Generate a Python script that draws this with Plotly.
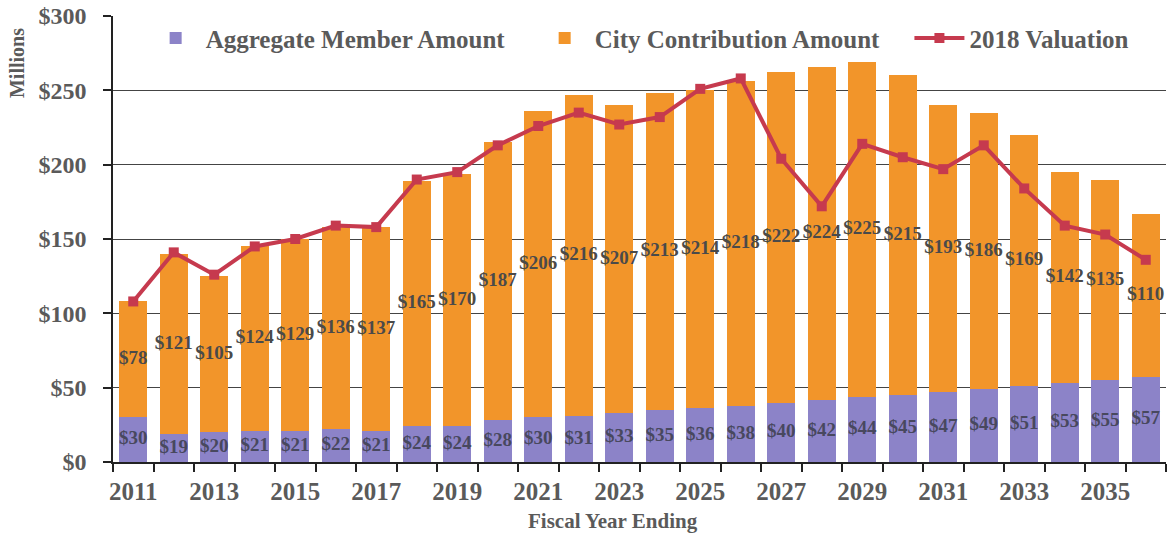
import plotly.graph_objects as go

years = list(range(2011, 2037))
member = [30, 19, 20, 21, 21, 22, 21, 24, 24, 28, 30, 31, 33, 35, 36, 38, 40, 42, 44, 45, 47, 49, 51, 53, 55, 57]
city = [78, 121, 105, 124, 129, 136, 137, 165, 170, 187, 206, 216, 207, 213, 214, 218, 222, 224, 225, 215, 193, 186, 169, 142, 135, 110]
valuation = [108, 141, 126, 145, 150, 159, 158, 190, 195, 213, 226, 235, 227, 232, 251, 258, 204, 172, 214, 205, 197, 213, 184, 159, 153, 136]

label_years = years[::2]
y_ticks = [0, 50, 100, 150, 200, 250, 300]

FONT = "Liberation Serif"
GRAY = "#5a5a5a"
PURPLE = "#8c83c8"
ORANGE = "#f2952a"
RED = "#c63a4e"
PAD = "\u00a0" * 4  # extra spacing between legend entries

fig = go.Figure()
fig.add_trace(go.Bar(x=years, y=member, name="Aggregate Member Amount" + PAD,
                     marker=dict(color=PURPLE, line=dict(width=0))))
fig.add_trace(go.Bar(x=years, y=city, name="City Contribution Amount" + PAD,
                     marker=dict(color=ORANGE, line=dict(width=0))))
fig.add_trace(go.Scatter(x=years, y=valuation, name="2018 Valuation", mode="lines+markers",
                         line=dict(color=RED, width=4),
                         marker=dict(symbol="square", size=10, color=RED)))

# data labels centred in each segment
fig.add_trace(go.Scatter(x=years, y=[m / 2 for m in member], mode="text",
                         text=[f"${v}" for v in member], showlegend=False, hoverinfo="skip",
                         cliponaxis=False,
                         textfont=dict(family=FONT, size=19, color="#48485e", weight="bold")))
fig.add_trace(go.Scatter(x=years, y=[m + c / 2 for m, c in zip(member, city)], mode="text",
                         text=[f"${v}" for v in city], showlegend=False, hoverinfo="skip",
                         cliponaxis=False,
                         textfont=dict(family=FONT, size=19, color="#4a4a4a", weight="bold")))

fig.update_layout(
    width=1169, height=540,
    barmode="stack", bargap=0.31,
    plot_bgcolor="white", paper_bgcolor="white",
    margin=dict(l=113, r=3, t=13, b=78),
    font=dict(family=FONT, color=GRAY),
    legend=dict(orientation="h", x=0.031, y=0.95, xanchor="left", yanchor="middle",
                bgcolor="rgba(0,0,0,0)", itemwidth=50,
                font=dict(family=FONT, size=25, color=GRAY, weight="bold"),
                traceorder="normal"),
    showlegend=True,
    annotations=[
        dict(text="Millions", xref="paper", yref="paper", x=-0.091, y=0.895,
             xanchor="center", yanchor="middle", textangle=-90, showarrow=False,
             font=dict(family=FONT, size=20, color=GRAY, weight="bold")),
        dict(text="Fiscal Year Ending", xref="paper", yref="paper", x=0.475, y=-0.133,
             xanchor="center", yanchor="middle", showarrow=False,
             font=dict(family=FONT, size=21, color=GRAY, weight="bold")),
    ],
)
fig.update_xaxes(
    type="linear", range=[2010.5, 2036.5],
    tickvals=label_years, ticktext=[str(y) for y in label_years], ticks="",
    tickfont=dict(family=FONT, size=25, color=GRAY, weight="bold"),
    ticklabelstandoff=6,
    showline=True, linecolor="#222222", linewidth=1.5, showgrid=False, zeroline=False,
    minor=dict(tickvals=[y - 0.5 for y in years] + [years[-1] + 0.5], ticks="outside",
               ticklen=8, tickcolor="#222222", tickwidth=1.5, showgrid=False),
)
fig.update_yaxes(
    range=[0, 300], tickvals=y_ticks, ticktext=[f"${v}" for v in y_ticks],
    tickfont=dict(family=FONT, size=24, color=GRAY, weight="bold"),
    ticks="outside", ticklen=8, tickcolor="#222222", tickwidth=1.5, ticklabelstandoff=12,
    showline=True, linecolor="#222222", linewidth=1.5,
    showgrid=True, gridcolor="#444444", gridwidth=1.2, zeroline=False,
)

fig.write_html("out.html", config={"displayModeBar": False},
               post_script="document.body.style.margin='0';document.body.style.overflow='hidden';")
